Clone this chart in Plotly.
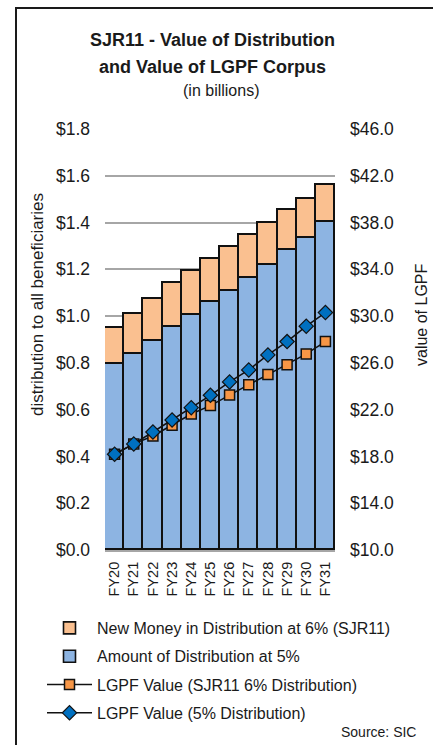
import plotly.graph_objects as go

# ---- data ----
categories = ["FY20", "FY21", "FY22", "FY23", "FY24", "FY25", "FY26", "FY27", "FY28", "FY29", "FY30", "FY31"]
dist_5pct = [0.794, 0.838, 0.895, 0.955, 1.006, 1.059, 1.109, 1.163, 1.220, 1.281, 1.333, 1.401]
new_money_6pct = [0.154, 0.170, 0.179, 0.185, 0.187, 0.185, 0.188, 0.185, 0.179, 0.171, 0.169, 0.161]
lgpf_6pct = [18.19, 19.07, 19.75, 20.67, 21.63, 22.35, 23.26, 24.14, 25.00, 25.85, 26.77, 27.82]
lgpf_5pct = [18.19, 19.07, 20.09, 21.12, 22.17, 23.23, 24.37, 25.40, 26.68, 27.82, 29.14, 30.30]
left_ticks = [0.0, 0.2, 0.4, 0.6, 0.8, 1.0, 1.2, 1.4, 1.6, 1.8]
right_ticks = [10, 14, 18, 22, 26, 30, 34, 38, 42, 46]
left_ticktext = ["$%.1f" % v for v in left_ticks]
right_ticktext = ["$%.1f" % v for v in right_ticks]

# ---- layout geometry (pixels) ----
W, H = 433, 745
L, R, T, B = 105, 335, 129, 550
FONT = "Liberation Sans"
TXT = "#1a1a1a"


def px(x):
    return (x - L) / (R - L)


def py(y):
    return (B - y) / (B - T)


fig = go.Figure()
fig.add_trace(go.Bar(
    x=categories, y=dist_5pct, name="Amount of Distribution at 5%",
    marker=dict(color="#8DB4E2", line=dict(color="#111111", width=1.6)),
    legendrank=2, legendgroup="g2",
))
fig.add_trace(go.Bar(
    x=categories, y=new_money_6pct, name="New Money in Distribution at 6% (SJR11)",
    marker=dict(color="#FAC090", line=dict(color="#111111", width=1.6)),
    legendrank=1, legendgroup="g1",
))
fig.add_trace(go.Scatter(
    x=categories, y=lgpf_6pct, yaxis="y2", mode="lines+markers",
    name="LGPF Value (SJR11 6% Distribution)",
    line=dict(color="#111111", width=1.5),
    marker=dict(symbol="square", size=10, color="#F79646", line=dict(color="#111111", width=1.5)),
    legendrank=3, legendgroup="g3",
))
fig.add_trace(go.Scatter(
    x=categories, y=lgpf_5pct, yaxis="y2", mode="lines+markers",
    name="LGPF Value (5% Distribution)",
    line=dict(color="#111111", width=1.5),
    marker=dict(symbol="diamond", size=11, color="#0070C0", line=dict(color="#111111", width=1.2)),
    legendrank=4, legendgroup="g4",
))

fig.update_layout(
    width=W, height=H,
    margin=dict(l=L, r=W - R, t=T, b=H - B, pad=0),
    paper_bgcolor="white", plot_bgcolor="white",
    barmode="stack", bargap=0,
    font=dict(family=FONT, color=TXT, size=16),
    showlegend=True,
    legend=dict(
        x=px(42), y=py(611), xanchor="left", yanchor="top",
        orientation="v", traceorder="grouped",
        font=dict(size=16, family=FONT, color=TXT),
        itemwidth=45, tracegroupgap=4.5, bgcolor="rgba(0,0,0,0)",
    ),
    xaxis=dict(
        type="category", range=[-0.5, 11.5], tickangle=-90,
        tickfont=dict(size=14.5, family=FONT, color=TXT),
        showgrid=False, showline=True, linecolor="#A6A6A6", linewidth=2,
        ticks="", ticklabelstandoff=4,
    ),
    yaxis=dict(
        range=[0, 1.8], tickmode="array", tickvals=left_ticks, ticktext=left_ticktext,
        tickfont=dict(size=17.5, family=FONT, color=TXT),
        showgrid=True, gridcolor="#A6A6A6", gridwidth=2,
        zeroline=False, showline=False, ticks="", ticklabelstandoff=14,
    ),
    yaxis2=dict(
        range=[10, 46], tickmode="array", tickvals=right_ticks, ticktext=right_ticktext,
        overlaying="y", side="right",
        tickfont=dict(size=17.5, family=FONT, color=TXT),
        showgrid=False, zeroline=False, showline=False, ticks="", ticklabelstandoff=14,
    ),
    shapes=[
        dict(type="rect", xref="paper", yref="paper",
             x0=px(16), x1=px(460), y0=py(790), y1=py(8),
             line=dict(color="#1a1a1a", width=2), fillcolor="rgba(0,0,0,0)", layer="below"),
    ],
    annotations=[
        dict(text="<b>SJR11 - Value of Distribution</b>", xref="paper", yref="paper",
             x=px(212), y=py(40), xanchor="center", yanchor="middle", showarrow=False,
             font=dict(size=18, family=FONT, color=TXT)),
        dict(text="<b>and Value of LGPF Corpus</b>", xref="paper", yref="paper",
             x=px(212), y=py(67), xanchor="center", yanchor="middle", showarrow=False,
             font=dict(size=18, family=FONT, color=TXT)),
        dict(text="(in billions)", xref="paper", yref="paper",
             x=px(221), y=py(91), xanchor="center", yanchor="middle", showarrow=False,
             font=dict(size=16, family=FONT, color=TXT)),
        dict(text="distribution to all beneficiaries", xref="paper", yref="paper",
             x=px(37), y=py(305), xanchor="center", yanchor="middle", showarrow=False,
             textangle=-90, font=dict(size=17, family=FONT, color=TXT)),
        dict(text="value of LGPF", xref="paper", yref="paper",
             x=px(421), y=py(315), xanchor="center", yanchor="middle", showarrow=False,
             textangle=-90, font=dict(size=16, family=FONT, color=TXT)),
        dict(text="Source: SIC", xref="paper", yref="paper",
             x=px(418), y=py(732), xanchor="right", yanchor="middle", showarrow=False,
             font=dict(size=14, family=FONT, color=TXT)),
    ],
)

fig.write_html("out.html")
